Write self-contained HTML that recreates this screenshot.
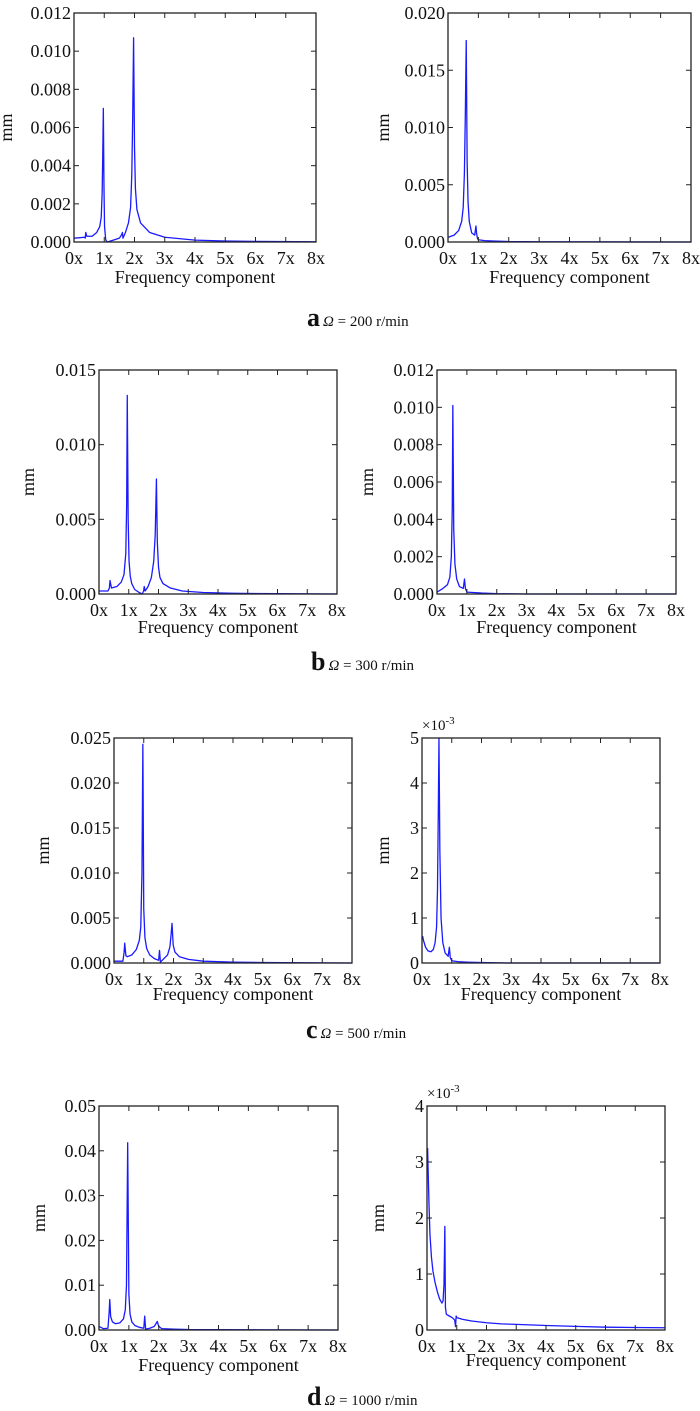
<!DOCTYPE html>
<html><head><meta charset="utf-8"><style>
body{margin:0;background:#fff;}
svg{display:block;font-family:"Liberation Serif",serif;}
</style></head><body>
<svg id="fig" width="700" height="1411" viewBox="0 0 700 1411" xmlns="http://www.w3.org/2000/svg"></svg>
<script>
// ---- data (x in multiples of rotation frequency, y in mm) ----
const aLeftX=[0,0.35,0.37,0.39,0.42,0.6,0.75,0.85,0.9,0.93,0.95,0.97,0.99,1.01,1.05,1.1,1.3,1.5,1.58,1.6,1.62,1.7,1.8,1.87,1.91,1.94,1.97,2.0,2.03,2.08,2.2,2.5,3,4,5,6,8];
const aLeftY=[0.0002,0.00025,0.0002,0.0005,0.0003,0.0003,0.0005,0.0008,0.0013,0.0025,0.0045,0.007,0.003,0.0008,0.0001,0,0.0001,0.0002,0.0004,0.0005,0.0002,0.0005,0.001,0.0018,0.0035,0.0065,0.0107,0.005,0.0028,0.0017,0.001,0.0005,0.00025,0.0001,0.00005,0.00003,0.00001];
const aRightX=[0,0.2,0.35,0.45,0.5,0.54,0.57,0.6,0.63,0.66,0.7,0.78,0.88,0.92,0.94,0.97,1.0,1.2,1.5,2,3,8];
const aRightY=[0.0004,0.0006,0.001,0.0018,0.003,0.006,0.011,0.0176,0.007,0.0035,0.0018,0.0008,0.0006,0.0014,0.0008,0.0003,0.0002,0.00012,0.00008,0.00004,0.00002,0];
const bLeftX=[0,0.3,0.35,0.37,0.42,0.6,0.75,0.84,0.9,0.93,0.95,0.98,1.01,1.05,1.1,1.2,1.35,1.45,1.5,1.52,1.55,1.65,1.76,1.84,1.89,1.93,1.96,2.0,2.05,2.15,2.4,2.8,3.5,4.5,6,8];
const bLeftY=[0.0002,0.0002,0.0004,0.0009,0.0004,0.0005,0.0008,0.0013,0.0027,0.006,0.0133,0.005,0.0022,0.0012,0.0007,0.0003,0.0001,0,0.0002,0.0005,0.0002,0.0005,0.0011,0.0022,0.004,0.0077,0.0035,0.0018,0.0011,0.0007,0.0004,0.0002,0.0001,0.00005,0.00002,0];
const bRightX=[0,0.2,0.35,0.43,0.48,0.51,0.53,0.56,0.6,0.66,0.75,0.88,0.92,0.95,1.0,1.2,1.5,2,3,8];
const bRightY=[0.0001,0.0003,0.0005,0.0009,0.002,0.0045,0.0101,0.0035,0.0016,0.0008,0.0004,0.0003,0.0008,0.0003,0.0001,0.00008,0.00005,0.00002,0,0];
const cLeftX=[0,0.3,0.34,0.36,0.4,0.45,0.6,0.75,0.85,0.9,0.94,0.97,1.0,1.04,1.1,1.2,1.35,1.5,1.53,1.56,1.65,1.8,1.88,1.92,1.95,1.99,2.05,2.2,2.5,3,4,5,8];
const cLeftY=[0.0002,0.0002,0.0012,0.0022,0.0008,0.0007,0.0009,0.0015,0.0025,0.004,0.01,0.0243,0.006,0.0028,0.0016,0.0009,0.0005,0.0003,0.0014,0.0001,0.0004,0.0009,0.0018,0.0032,0.0044,0.002,0.0012,0.0007,0.0004,0.0002,0.0001,0.00005,0];
const cRightX=[0.02,0.05,0.12,0.2,0.3,0.38,0.44,0.49,0.52,0.55,0.57,0.6,0.64,0.7,0.78,0.88,0.92,0.95,1.0,1.2,1.5,2,3,8];
const cRightY=[0.6,0.5,0.35,0.27,0.25,0.3,0.45,0.8,1.6,3.5,5,2.5,1.0,0.45,0.22,0.15,0.35,0.12,0.05,0.03,0.02,0.01,0,0];
const dLeftX=[0,0.15,0.3,0.34,0.36,0.39,0.45,0.55,0.7,0.82,0.88,0.92,0.96,1.0,1.04,1.1,1.2,1.35,1.5,1.53,1.56,1.7,1.85,1.95,2.0,2.1,2.5,3,8];
const dLeftY=[0.0008,0.0003,0.0004,0.004,0.0068,0.003,0.0018,0.0014,0.0016,0.0025,0.0045,0.01,0.0418,0.008,0.0035,0.0018,0.001,0.0006,0.0004,0.0031,0.0002,0.0004,0.0008,0.0019,0.0008,0.0003,0.0002,0.0001,0];
const dRightX=[0.02,0.04,0.07,0.1,0.15,0.2,0.27,0.35,0.42,0.5,0.54,0.57,0.6,0.62,0.65,0.75,0.85,0.93,0.96,0.98,1.0,1.2,1.5,2,2.5,3,4,5,6,8];
const dRightY=[3.25,2.8,2.2,1.7,1.3,1.05,0.85,0.68,0.56,0.48,0.52,0.8,1.85,0.4,0.28,0.25,0.22,0.18,0.06,0.25,0.22,0.19,0.16,0.13,0.11,0.1,0.08,0.065,0.05,0.04];
// tick labels
const xTickLabels=["0x","1x","2x","3x","4x","5x","6x","7x","8x"];
const aLeftTicks=["0.000","0.002","0.004","0.006","0.008","0.010","0.012"];
const aRightTicks=["0.000","0.005","0.010","0.015","0.020"];
const bLeftTicks=["0.000","0.005","0.010","0.015"];
const bRightTicks=["0.000","0.002","0.004","0.006","0.008","0.010","0.012"];
const cLeftTicks=["0.000","0.005","0.010","0.015","0.020","0.025"];
const cRightTicks=["0","1","2","3","4","5"];
const dLeftTicks=["0.00","0.01","0.02","0.03","0.04","0.05"];
const dRightTicks=["0","1","2","3","4"];

const NS="http://www.w3.org/2000/svg";
const svg=document.getElementById('fig');
function mk(tag,attrs,parent){const e=document.createElementNS(NS,tag);for(const k in attrs)e.setAttribute(k,attrs[k]);(parent||svg).appendChild(e);return e;}

function panel(name,box,xs,ys,ticks,ymax,ylabX,xlabY,expo){
  const g=mk('g',{});
  
  
  const [L,T,R,B]=box;
  const sx=v=>L+(v/8)*(R-L);
  const sy=v=>B-(Math.min(v,ymax)/ymax)*(B-T);
  let d='';
  for(let i=0;i<xs.length;i++){d+=(i?'L':'M')+sx(xs[i]).toFixed(2)+' '+sy(ys[i]).toFixed(2);}
  const p=mk('path',{d:d,fill:'none',stroke:'#1a1aff','stroke-width':1.3,'stroke-linejoin':'round'},g);
  
  
  const f=mk('rect',{x:L,y:T,width:R-L,height:B-T,fill:'none',stroke:'#222','stroke-width':1.3},g);
  
  
  for(let i=0;i<xTickLabels.length;i++){
    const x=sx(i);
    mk('line',{x1:x,y1:B,x2:x,y2:B-5,stroke:'#222','stroke-width':1},g);
    mk('line',{x1:x,y1:T,x2:x,y2:T+5,stroke:'#222','stroke-width':1},g);
    const t=mk('text',{x:x,y:B+22,'font-size':18,'text-anchor':'middle',fill:'#111'},g);
    t.textContent=xTickLabels[i];
    
    
  }
  for(let i=0;i<ticks.length;i++){
    const y=B-(i/(ticks.length-1))*(B-T);
    mk('line',{x1:L,y1:y,x2:L+5,y2:y,stroke:'#222','stroke-width':1},g);
    mk('line',{x1:R,y1:y,x2:R-5,y2:y,stroke:'#222','stroke-width':1},g);
    const t=mk('text',{x:L-3,y:y+6,'font-size':18,'text-anchor':'end',fill:'#111'},g);
    t.textContent=ticks[i];
    
    
  }
  const yl=mk('text',{x:ylabX,y:(T+B)/2,'font-size':18,'text-anchor':'middle',fill:'#111',transform:'rotate(-90 '+ylabX+' '+(T+B)/2+')'},g);
  yl.textContent='mm';
  
  
  const xl=mk('text',{x:(L+R)/2,y:xlabY,'font-size':18,'text-anchor':'middle',fill:'#111'},g);
  xl.textContent='Frequency component';
  
  
  if(expo){
    const e=mk('text',{x:L,y:T-8,'font-size':15,fill:'#111'},g);
    e.innerHTML='×10<tspan dy="-6" font-size="11">-3</tspan>';
    
    
  }
}
function caption(name,x,y,letter,text){
  const t=mk('text',{x:x,y:y,fill:'#111'});
  t.innerHTML='<tspan font-weight="bold" font-size="26">'+letter+'</tspan><tspan font-size="15" dx="3" font-style="italic">Ω</tspan><tspan font-size="15"> = '+text+'</tspan>';
  
  
}
panel('panel-a-left',[74,13,316,242],aLeftX,aLeftY,aLeftTicks,0.012,12,283,false);
panel('panel-a-right',[448,13,691,242],aRightX,aRightY,aRightTicks,0.020,389,283,false);
caption('caption-a',307,326,'a','200 r/min');
panel('panel-b-left',[99,370,337,594],bLeftX,bLeftY,bLeftTicks,0.015,34,633,false);
panel('panel-b-right',[437,370,676,594],bRightX,bRightY,bRightTicks,0.012,373,633,false);
caption('caption-b',311,670,'b','300 r/min');
panel('panel-c-left',[114,738,352,963],cLeftX,cLeftY,cLeftTicks,0.025,49,1000,false);
panel('panel-c-right',[422,738,660,963],cRightX,cRightY,cRightTicks,5,389,1000,true);
caption('caption-c',306,1038,'c','500 r/min');
panel('panel-d-left',[99,1106,338,1330],dLeftX,dLeftY,dLeftTicks,0.05,45,1371,false);
panel('panel-d-right',[427,1106,665,1330],dRightX,dRightY,dRightTicks,4,384,1366,true);
caption('caption-d',307,1405,'d','1000 r/min');
</script>
</body></html>
